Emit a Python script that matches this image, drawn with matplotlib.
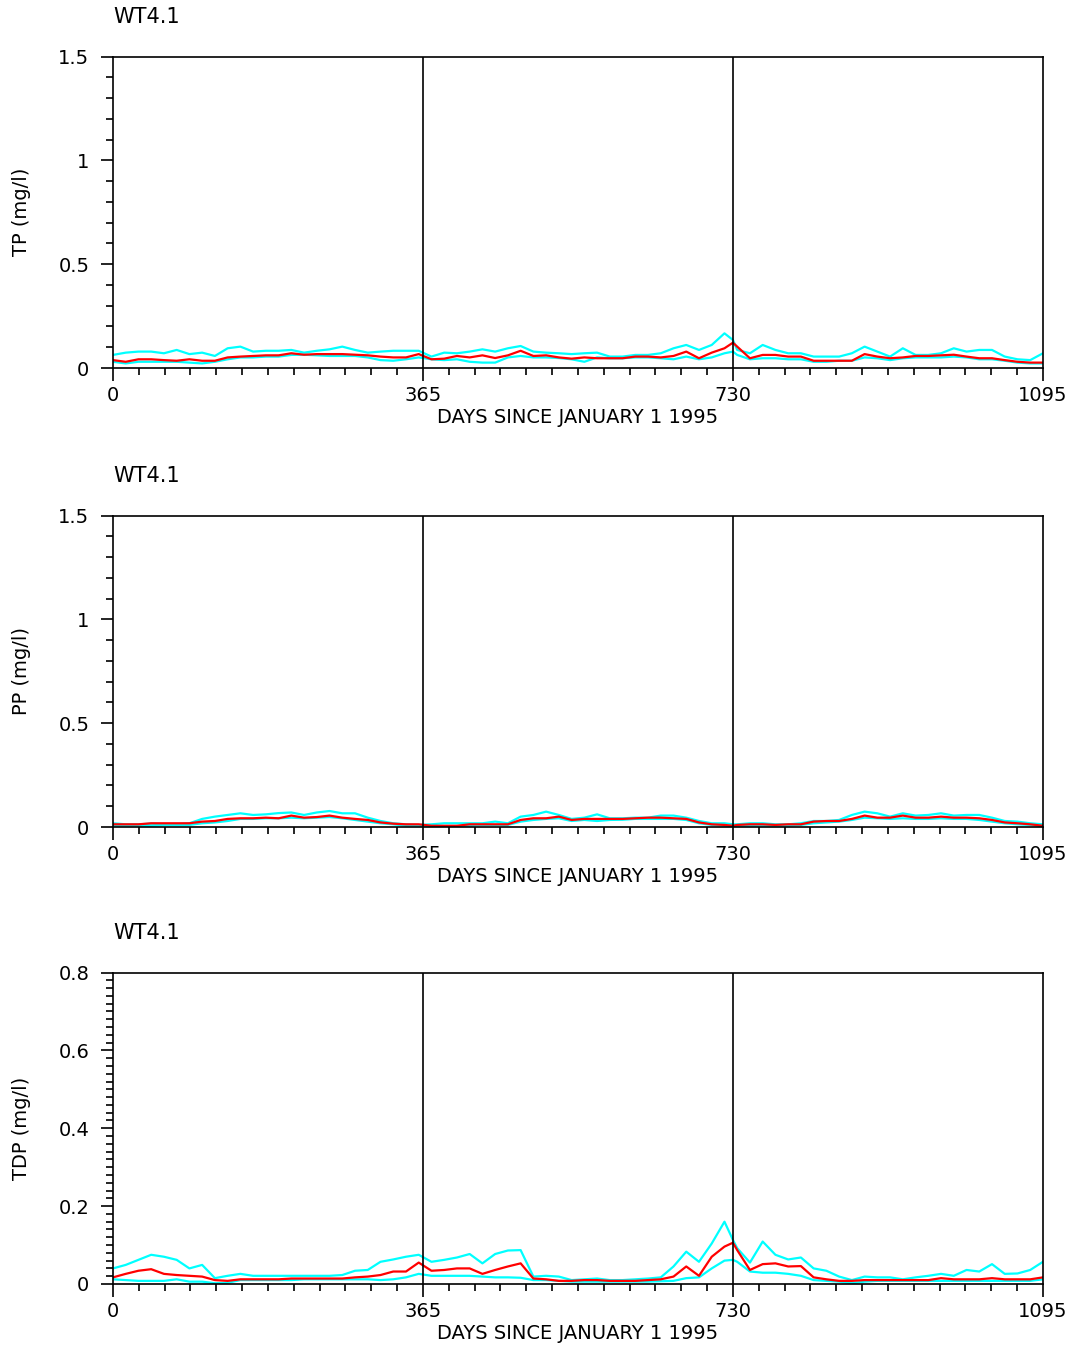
import numpy as np
import matplotlib
matplotlib.use("Agg")
import matplotlib.pyplot as plt
from matplotlib.ticker import MultipleLocator, FuncFormatter

# days since Jan 1 1995
days = list(range(0, 721, 15)) + [730] + list(range(735, 1096, 15))

# TP (mg/l): mean, upper, lower
tp_mean = [0.038, 0.030, 0.042, 0.042, 0.038, 0.035, 0.042, 0.035, 0.035, 0.051,
           0.055, 0.058, 0.061, 0.061, 0.071, 0.064, 0.067, 0.067, 0.067, 0.064,
           0.061, 0.055, 0.051, 0.051, 0.067, 0.042, 0.045, 0.058, 0.051, 0.061,
           0.048, 0.061, 0.083, 0.058, 0.061, 0.051, 0.045, 0.051, 0.047, 0.047,
           0.047, 0.055, 0.055, 0.051, 0.058, 0.079, 0.047, 0.074, 0.095,
           0.122,
           0.103, 0.047, 0.063, 0.063, 0.055, 0.055, 0.035, 0.035, 0.035, 0.035,
           0.067, 0.055, 0.047, 0.051, 0.058, 0.058, 0.061, 0.064, 0.055, 0.047,
           0.047, 0.038, 0.030, 0.026, 0.026]
tp_hi = [0.063, 0.074, 0.079, 0.079, 0.071, 0.087, 0.067, 0.074, 0.058, 0.095,
         0.103, 0.079, 0.083, 0.083, 0.087, 0.074, 0.083, 0.090, 0.103, 0.087,
         0.074, 0.079, 0.083, 0.083, 0.083, 0.055, 0.074, 0.071, 0.079, 0.090,
         0.079, 0.095, 0.106, 0.079, 0.074, 0.071, 0.067, 0.071, 0.074, 0.055,
         0.055, 0.063, 0.063, 0.071, 0.095, 0.111, 0.087, 0.111, 0.167,
         0.135,
         0.087, 0.071, 0.111, 0.087, 0.071, 0.071, 0.055, 0.055, 0.055, 0.071,
         0.103, 0.079, 0.055, 0.095, 0.063, 0.063, 0.071, 0.095, 0.079, 0.087,
         0.087, 0.055, 0.042, 0.038, 0.071]
tp_lo = [0.030, 0.022, 0.030, 0.030, 0.030, 0.030, 0.026, 0.022, 0.030, 0.042,
         0.051, 0.051, 0.055, 0.055, 0.063, 0.064, 0.061, 0.058, 0.058, 0.058,
         0.051, 0.038, 0.035, 0.042, 0.051, 0.042, 0.038, 0.042, 0.030, 0.026,
         0.026, 0.051, 0.058, 0.051, 0.051, 0.048, 0.042, 0.030, 0.051, 0.047,
         0.047, 0.051, 0.051, 0.047, 0.042, 0.055, 0.042, 0.051, 0.071,
         0.079,
         0.063, 0.042, 0.047, 0.047, 0.042, 0.042, 0.030, 0.030, 0.035, 0.035,
         0.051, 0.047, 0.038, 0.047, 0.051, 0.051, 0.051, 0.055, 0.051, 0.042,
         0.042, 0.035, 0.026, 0.022, 0.022]

# PP (mg/l)
pp_mean = [0.013, 0.013, 0.013, 0.018, 0.018, 0.018, 0.018, 0.026, 0.029, 0.039,
           0.042, 0.042, 0.045, 0.042, 0.055, 0.045, 0.048, 0.055, 0.045, 0.039,
           0.034, 0.022, 0.016, 0.013, 0.013, 0.006, 0.006, 0.006, 0.013, 0.013,
           0.013, 0.013, 0.034, 0.042, 0.042, 0.050, 0.034, 0.039, 0.039, 0.039,
           0.039, 0.042, 0.045, 0.045, 0.042, 0.039, 0.022, 0.013, 0.010,
           0.006,
           0.010, 0.013, 0.013, 0.010, 0.013, 0.013, 0.026, 0.029, 0.029, 0.039,
           0.055, 0.045, 0.045, 0.055, 0.045, 0.045, 0.050, 0.045, 0.045, 0.042,
           0.034, 0.022, 0.018, 0.013, 0.006]
pp_hi = [0.018, 0.013, 0.013, 0.016, 0.013, 0.013, 0.018, 0.039, 0.050, 0.058,
         0.066, 0.058, 0.061, 0.067, 0.070, 0.058, 0.070, 0.077, 0.066, 0.066,
         0.045, 0.029, 0.018, 0.013, 0.010, 0.013, 0.018, 0.018, 0.018, 0.018,
         0.026, 0.018, 0.050, 0.058, 0.074, 0.058, 0.039, 0.045, 0.061, 0.042,
         0.042, 0.045, 0.045, 0.055, 0.055, 0.045, 0.029, 0.018, 0.018,
         0.013,
         0.013, 0.018, 0.018, 0.013, 0.013, 0.018, 0.029, 0.029, 0.034, 0.058,
         0.074, 0.066, 0.050, 0.066, 0.055, 0.058, 0.066, 0.055, 0.058, 0.058,
         0.045, 0.029, 0.026, 0.018, 0.013]
pp_lo = [0.006, 0.006, 0.006, 0.006, 0.010, 0.010, 0.010, 0.018, 0.022, 0.029,
         0.039, 0.039, 0.042, 0.042, 0.045, 0.042, 0.045, 0.048, 0.042, 0.034,
         0.026, 0.018, 0.013, 0.006, 0.006, 0.003, 0.003, 0.003, 0.006, 0.010,
         0.010, 0.010, 0.026, 0.034, 0.039, 0.042, 0.029, 0.034, 0.029, 0.034,
         0.035, 0.039, 0.039, 0.039, 0.039, 0.034, 0.018, 0.010, 0.006,
         0.003,
         0.003, 0.006, 0.006, 0.006, 0.006, 0.010, 0.018, 0.022, 0.026, 0.034,
         0.045, 0.042, 0.039, 0.042, 0.039, 0.039, 0.042, 0.039, 0.039, 0.034,
         0.026, 0.018, 0.013, 0.010, 0.003]

# TDP (mg/l)
tdp_mean = [0.017, 0.026, 0.034, 0.038, 0.026, 0.023, 0.021, 0.019, 0.010, 0.008,
            0.012, 0.012, 0.012, 0.012, 0.014, 0.014, 0.014, 0.014, 0.014, 0.017,
            0.019, 0.023, 0.032, 0.032, 0.055, 0.034, 0.036, 0.040, 0.040, 0.026,
            0.036, 0.045, 0.053, 0.014, 0.012, 0.008, 0.008, 0.010, 0.010, 0.008,
            0.008, 0.008, 0.010, 0.012, 0.019, 0.045, 0.021, 0.070, 0.096,
            0.106,
            0.087, 0.036, 0.051, 0.053, 0.045, 0.046, 0.017, 0.012, 0.008, 0.008,
            0.010, 0.010, 0.010, 0.010, 0.010, 0.010, 0.015, 0.012, 0.012, 0.012,
            0.015, 0.012, 0.012, 0.012, 0.017]
tdp_hi = [0.040, 0.049, 0.062, 0.075, 0.070, 0.062, 0.040, 0.049, 0.015, 0.021,
          0.026, 0.021, 0.021, 0.021, 0.021, 0.021, 0.021, 0.021, 0.023, 0.034,
          0.036, 0.057, 0.063, 0.070, 0.075, 0.057, 0.062, 0.068, 0.077, 0.053,
          0.077, 0.086, 0.087, 0.019, 0.021, 0.019, 0.010, 0.012, 0.014, 0.010,
          0.010, 0.012, 0.014, 0.017, 0.045, 0.083, 0.057, 0.104, 0.160,
          0.113,
          0.092, 0.055, 0.109, 0.075, 0.063, 0.068, 0.040, 0.034, 0.019, 0.010,
          0.019, 0.017, 0.017, 0.012, 0.017, 0.021, 0.026, 0.021, 0.036, 0.032,
          0.051, 0.026, 0.027, 0.036, 0.057]
tdp_lo = [0.012, 0.010, 0.008, 0.008, 0.008, 0.012, 0.006, 0.006, 0.002, 0.003,
          0.010, 0.010, 0.010, 0.010, 0.010, 0.012, 0.012, 0.012, 0.012, 0.012,
          0.012, 0.010, 0.012, 0.017, 0.026, 0.021, 0.021, 0.021, 0.021, 0.019,
          0.017, 0.017, 0.016, 0.010, 0.010, 0.008, 0.006, 0.006, 0.006, 0.006,
          0.006, 0.006, 0.006, 0.007, 0.008, 0.015, 0.017, 0.040, 0.060,
          0.062,
          0.057, 0.032, 0.029, 0.029, 0.026, 0.021, 0.010, 0.008, 0.006, 0.002,
          0.006, 0.008, 0.008, 0.008, 0.008, 0.008, 0.008, 0.008, 0.008, 0.008,
          0.008, 0.008, 0.008, 0.008, 0.012]

panels = [
    ("TP (mg/l)", tp_mean, tp_hi, tp_lo, 1.5, 0.5, 0.1, 0.7274),
    ("PP (mg/l)", pp_mean, pp_hi, pp_lo, 1.5, 0.5, 0.1, 0.3874),
    ("TDP (mg/l)", tdp_mean, tdp_hi, tdp_lo, 0.8, 0.2, 0.02, 0.0489),
]

fig = plt.figure(figsize=(10.8, 13.5), dpi=100)
fs = 14

for label, mean, hi, lo, ymax, major, minor, bottom in panels:
    ax = fig.add_axes([0.1046, bottom, 0.8611, 0.2307])
    ax.plot(days, hi, color="#00ffff", lw=1.6)
    ax.plot(days, lo, color="#00ffff", lw=1.6)
    ax.plot(days, mean, color="#ff0000", lw=1.6)
    for d in (365, 730):
        ax.axvline(d, color="black", lw=1.2)

    ax.set_xlim(0, 1095)
    ax.set_ylim(0, ymax)
    ax.set_xticks([0, 365, 730, 1095])
    ax.xaxis.set_minor_locator(MultipleLocator(365 / 12))
    ax.yaxis.set_major_locator(MultipleLocator(major))
    ax.yaxis.set_minor_locator(MultipleLocator(minor))
    ax.yaxis.set_major_formatter(FuncFormatter(lambda v, p: "%g" % round(v, 3)))
    ax.tick_params(which="major", direction="out", length=9, width=1.2,
                   labelsize=fs, pad=4)
    ax.tick_params(axis="y", which="major", pad=8)
    ax.tick_params(which="minor", direction="out", length=5, width=1.2)
    for s in ax.spines.values():
        s.set_linewidth(1.2)

    ax.set_xlabel("DAYS SINCE JANUARY 1 1995", fontsize=fs, labelpad=2)
    ax.set_ylabel(label, fontsize=fs)
    ax.yaxis.set_label_coords(-0.088, 0.5)
    ax.set_title("WT4.1", loc="left", fontsize=fs + 1, pad=24)

fig.savefig("out.png", dpi=100)
